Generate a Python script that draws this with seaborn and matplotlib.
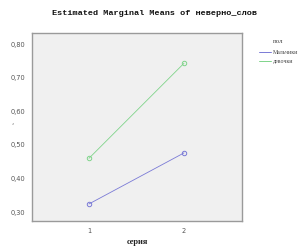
import matplotlib
matplotlib.use("Agg")
import matplotlib.pyplot as plt
import seaborn as sns
import pandas as pd

series = [1, 2]
boys = [0.324, 0.476]
girls = [0.460, 0.743]
groups = ["Мальчики", "девочки"]
yticks = [0.30, 0.40, 0.50, 0.60, 0.70, 0.80]
ytick_labels = ["0,30", "0,40", "0,50", "0,60", "0,70", "0,80"]

df = pd.DataFrame({
    "серия": series * 2,
    "value": boys + girls,
    "пол": [groups[0]] * 2 + [groups[1]] * 2,
})

sns.set_style("white")
plt.rcParams["font.family"] = ["DejaVu Sans"]

fig = plt.figure(figsize=(3.02, 2.47), dpi=100)
ax = fig.add_axes([0.106, 0.105, 0.695, 0.761])
ax.set_facecolor("#f0f0f0")

palette = {groups[0]: "#7a7ad6", groups[1]: "#7fd48a"}
sns.lineplot(data=df, x="серия", y="value", hue="пол", palette=palette,
             marker="o", markersize=3.2, markerfacecolor="none",
             linewidth=0.6, ax=ax, legend=False)
for line, c in zip(ax.lines, [palette[groups[0]], palette[groups[1]]]):
    line.set_markeredgecolor(c)
    line.set_markeredgewidth(0.7)

ax.set_xlim(0.4, 2.61)
ax.set_ylim(0.273, 0.833)
ax.set_xticks(series)
ax.set_xticklabels(["1", "2"])
ax.set_yticks(yticks)
ax.set_yticklabels(ytick_labels)
ax.tick_params(axis="both", length=3, width=0.6, color="#555555", labelsize=4.8,
               labelcolor="#555555", pad=2)
for sp in ax.spines.values():
    sp.set_color("#9a9a9a")
    sp.set_linewidth(1.0)

ax.set_xlabel("серия", fontsize=6, family="Liberation Serif", fontweight="bold",
              color="#222222", labelpad=3)
ax.set_ylabel("")
fig.text(0.04, 0.505, ",", fontsize=5, color="#555555", ha="center", va="center")

fig.text(0.51, 0.947, "Estimated Marginal Means of неверно_слов",
         ha="center", va="center", fontsize=6.1, family="Liberation Mono",
         fontweight="bold", color="#111111")

# legend
fig.text(0.905, 0.83, "пол", fontsize=5, family="Liberation Serif",
         color="#444444", ha="left", va="center")
for i, g in enumerate(groups):
    y = 0.789 - i * 0.036
    fig.add_artist(plt.Line2D([0.858, 0.897], [y, y], color=palette[g], linewidth=0.7))
    fig.text(0.902, y, g, fontsize=4.2, family="Liberation Serif",
             color="#444444", ha="left", va="center")

fig.savefig("out.png", dpi=100)
